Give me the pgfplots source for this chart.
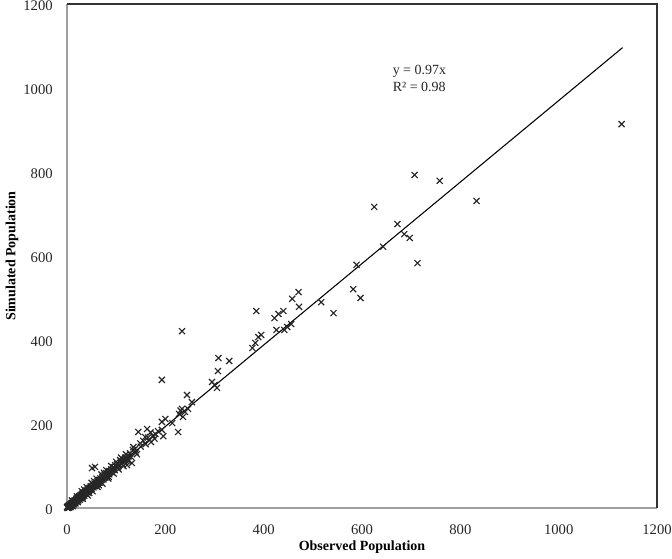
\documentclass[border=0pt]{standalone}
\usepackage{fontspec}
\setmainfont{Liberation Serif}
\usepackage{pgfplots}
\pgfplotsset{compat=1.18}
\begin{document}
\begin{tikzpicture}
\begin{axis}[
  scale only axis,
  width=442.5pt, height=378pt,
  xmin=0, xmax=1200, ymin=0, ymax=1200,
  xtick={0,200,...,1200}, ytick={0,200,...,1200},
  major tick length=0pt,
  axis line style={draw=none},
  /pgf/number format/assume math mode=true,
  /pgf/number format/1000 sep={},
  tick label style={font=\fontsize{11}{13}\selectfont, text=black!85},
  yticklabel style={anchor=east, inner sep=0pt, xshift=-10.5pt, yshift=-1.5pt},
  xticklabel style={anchor=north, inner sep=0pt, yshift=-12.5pt},
  xlabel={\textbf{Observed Population}},
  ylabel={\textbf{Simulated Population}},
  label style={font=\fontsize{10.5}{12}\selectfont},
  xlabel style={at={(axis description cs:0.5,0)}, anchor=center, yshift=-29.2pt},
  ylabel style={at={(axis description cs:-0.0933,0.5)}, anchor=center, rotate=0},
  clip=false,
]
\addplot[only marks, mark=x, mark size=3.2pt, draw=black!85, line width=0.85pt] coordinates {
(1128,914) (707,793) (758,779) (833,731) (625,717) (672,676) (686,652) (697,643) (713,583) (643,622)
(589,579) (582,521) (597,500) (517,490) (542,464) (471,514) (458,498) (472,479) (440,469) (430,462)
(422,452) (426,424) (442,424) (456,438) (448,431) (395,412) (389,407) (385,469) (234,421) (308,357)
(330,350) (307,326) (295,300) (305,286) (300,293) (377,381) (383,393) (193,305) (244,269) (254,252)
(234,236) (240,229) (236,217) (200,212) (193,205) (214,202) (226,181) (163,188) (193,186) (196,171)
(159,169) (145,181) (171,157) (149,154) (134,138) (122,119) (108,114) (98,102) (51,95) (132,107)
(122,102) (246,236) (228,224) (231,232) (57,98)
(0,2) (1,0) (1,3) (2,1) (2,4) (3,2) (3,5) (4,1) (4,6) (5,3) (5,7) (6,4) (6,8) (7,2) (7,6) (8,9) (8,5)
(9,7) (9,11) (10,8) (10,12) (11,9) (11,6) (12,13) (12,10) (13,11) (13,15) (14,12) (14,9) (15,14) (15,17)
(16,13) (16,18) (17,15) (17,11) (18,19) (18,16) (19,17) (19,22) (20,18) (20,21) (21,16) (21,24) (22,20)
(22,25) (23,21) (23,18) (24,26) (24,22) (25,23) (25,28) (26,24) (26,20) (27,29) (27,25) (28,26) (28,31)
(29,27) (29,23) (30,32) (30,28) (31,29) (31,34) (32,30) (32,26) (33,35) (33,31) (34,32) (34,37) (35,33)
(35,29) (36,38) (36,34) (37,35) (38,40) (38,36) (39,34) (40,42) (40,38) (41,39) (42,44) (42,37) (43,41)
(44,46) (44,42) (45,40) (46,48) (46,44) (47,45) (48,51) (48,43) (49,47) (50,52) (50,46) (52,50) (53,55)
(54,49) (55,53) (56,58) (57,52) (58,56) (59,61) (60,55) (61,59) (62,64) (63,58) (64,62) (65,67) (66,60)
(67,65) (68,70) (70,66) (71,69) (72,74) (74,68) (75,73) (76,79) (78,72) (79,77) (80,83) (82,76) (83,81)
(85,88) (86,80) (88,86) (90,92) (91,85) (93,91) (95,97) (97,90) (100,98) (102,104) (104,97) (106,103)
(110,112) (112,105) (115,113) (118,120) (120,112) (125,123) (128,130) (130,122) (138,140) (140,132)
(150,146) (155,160) (160,152) (165,168) (175,172) (180,176) (185,183)
(10,18) (12,4) (20,28) (22,14) (30,40) (32,22) (35,44) (40,50) (42,30) (45,36) (50,60) (52,40)
(55,64) (60,70) (62,50) (65,54) (70,80) (72,58) (75,84) (80,90) (84,70) (85,74) (90,100) (95,82)
(100,110) (105,92) (110,120) (115,100) (120,128) (125,112) (135,145) (142,128) (170,180) (178,165)
};
\addplot[black, line width=0.8pt, no marks] coordinates {(0,0) (1130,1096.1)};
\node[anchor=west, align=left, font=\fontsize{10.5}{12.5}\selectfont, text=black!85, inner sep=0pt] at (axis cs:662,1022) {y = 0.97x\\R² = 0.98};
\draw[gray!75, line width=1.4pt] (rel axis cs:0,1) -- (rel axis cs:0,0) -- (rel axis cs:1,0);
\draw[black!80, line width=1pt] (rel axis cs:0,1) -- (rel axis cs:1,1) -- (rel axis cs:1,0);
\coordinate (ll) at (rel axis cs:0,0);
\coordinate (ur) at (rel axis cs:1,1);
\end{axis}
\pgfresetboundingbox
\path[use as bounding box] ([xshift=-50.25pt, yshift=-38.25pt]ll) rectangle ([xshift=11.25pt, yshift=3pt]ur);
\end{tikzpicture}
\end{document}
